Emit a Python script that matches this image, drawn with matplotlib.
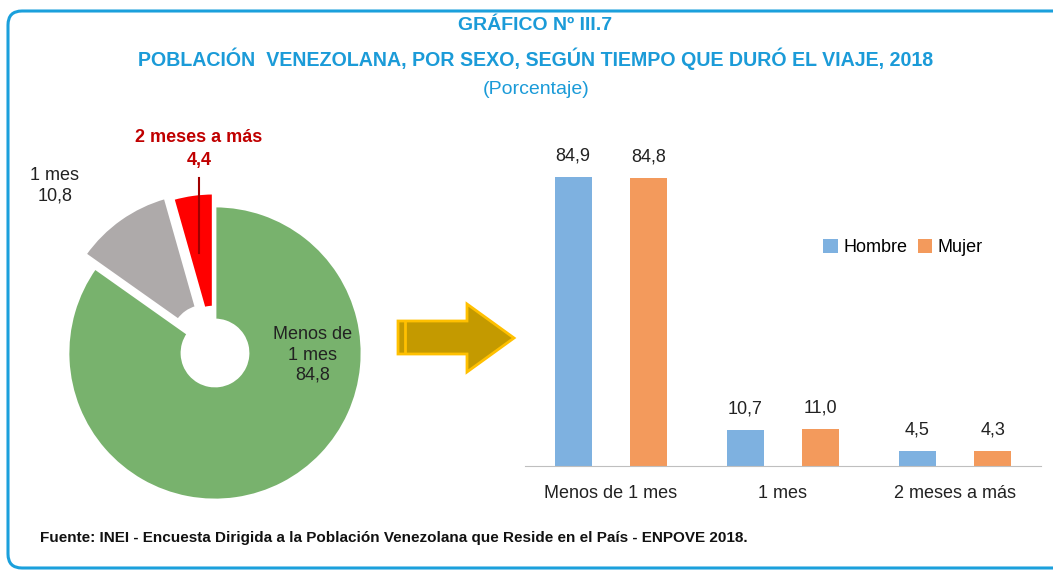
import matplotlib
matplotlib.use("Agg")
import matplotlib.pyplot as plt
from matplotlib.patches import FancyBboxPatch, Polygon
import numpy as np
from matplotlib import font_manager

# ---------------- data ----------------
pie_labels = ["Menos de\n1 mes", "1 mes", "2 meses a más"]
pie_values = [84.8, 10.8, 4.4]
pie_value_text = ["84,8", "10,8", "4,4"]

categories = ["Menos de 1 mes", "1 mes", "2 meses a más"]
hombre = [84.9, 10.7, 4.5]
mujer = [84.8, 11.0, 4.3]
series_names = ["Hombre", "Mujer"]

title1 = "GRÁFICO Nº III.7"
title2 = "POBLACIÓN  VENEZOLANA, POR SEXO, SEGÚN TIEMPO QUE DURÓ EL VIAJE, 2018"
title3 = "(Porcentaje)"
source = "Fuente: INEI - Encuesta Dirigida a la Población Venezolana que Reside en el País - ENPOVE 2018."

# ---------------- fonts ----------------
avail = {f.name for f in font_manager.fontManager.ttflist}
narrow = "Liberation Sans Narrow" if "Liberation Sans Narrow" in avail else "Liberation Sans"
plt.rcParams['font.family'] = [narrow, 'DejaVu Sans']

W, H = 1053, 573
fig = plt.figure(figsize=(W / 100, H / 100), dpi=100)
bg = fig.add_axes([0, 0, 1, 1])
bg.set_xlim(0, W)
bg.set_ylim(H, 0)
bg.axis("off")

# border
border = FancyBboxPatch((8, 11), W + 20, 557, boxstyle="round,pad=0,rounding_size=14",
                        fc="white", ec="#1BA0DC", lw=2.2, zorder=0)
bg.add_patch(border)

tcol = "#1B9BD8"
bg.text(535, 25, title1, ha="center", va="center", color=tcol, fontsize=14, fontweight="bold")
bg.text(536, 59, title2, ha="center", va="center", color=tcol, fontsize=14.1, fontweight="bold")
bg.text(536, 89, title3, ha="center", va="center", color=tcol, fontsize=14)
bg.text(40, 538, source, ha="left", va="center", color="#111111", fontsize=11, fontweight="bold")

# arrow
arrow_pts = [(398, 321), (467, 321), (467, 304), (514, 338), (467, 372), (467, 354), (398, 354)]
bg.add_patch(Polygon(arrow_pts, closed=True, fc="#C49A00", ec="#FFC000", lw=2, zorder=2))
bg.plot([405, 405], [322, 353], color="#FFC000", lw=2, zorder=3)

# ---------------- pie ----------------
pax = fig.add_axes([0, 0, 1, 1])
pax.patch.set_alpha(0)
cx, cy, R = 215, H - 353, 147
wedges, _ = pax.pie(pie_values, startangle=90, counterclock=False, radius=R, center=(cx, cy),
                    colors=["#78B26D", "#AEAAAA", "#FF0000"], explode=[0, 17, 13],
                    wedgeprops=dict(width=R - 33, edgecolor="white", linewidth=2))
pax.set_xlim(0, W)
pax.set_ylim(0, H)
pax.set_aspect("auto")
pax.axis("off")

pax.text(313, H - 355, pie_labels[0] + "\n" + pie_value_text[0], ha="center", va="center",
         fontsize=13, color="#222222", linespacing=1.25)
pax.text(55, H - 186, pie_labels[1] + "\n" + pie_value_text[1], ha="center", va="center",
         fontsize=13, color="#222222", linespacing=1.25)
pax.text(199, H - 137, pie_labels[2], ha="center", va="center", fontsize=13, color="#C00000",
         fontweight="bold")
pax.text(199, H - 160, pie_value_text[2], ha="center", va="center", fontsize=13, color="#C00000",
         fontweight="bold")
pax.plot([199, 199], [H - 178, H - 253], color="#A00000", lw=1.5)

# ---------------- bars ----------------
x0, x1 = 525, 1041
ytop = 466 - 3.40 * 100
bax = fig.add_axes([x0 / W, (H - 466) / H, (x1 - x0) / W, (466 - ytop) / H])
x = np.arange(len(categories))
bw = 0.215
off = 0.22
b1 = bax.bar(x - off, hombre, bw, color="#7EB1E0", label=series_names[0])
b2 = bax.bar(x + off, mujer, bw, color="#F39A5C", label=series_names[1])
for bars, vals in ((b1, hombre), (b2, mujer)):
    for r, v in zip(bars, vals):
        bax.annotate(f"{v:.1f}".replace(".", ","), (r.get_x() + r.get_width() / 2, v),
                     xytext=(0, 9), textcoords="offset points", ha="center", va="bottom",
                     fontsize=13, color="#222222")
bax.set_xlim(-0.5, 2.5)
bax.set_ylim(0, 100)
for s in ["top", "right", "left"]:
    bax.spines[s].set_visible(False)
bax.spines["bottom"].set_color("#BFBFBF")
bax.set_yticks([])
bax.set_xticks(x)
bax.set_xticklabels(categories, fontsize=13, color="#222222")
bax.tick_params(axis="x", length=0, pad=14)
bax.patch.set_alpha(0)
leg = bax.legend(loc="upper left", bbox_to_anchor=((816 - x0) / (x1 - x0), (466 - 232) / (466 - ytop)),
                 ncol=2, frameon=False, fontsize=13, handlelength=0.8, handleheight=0.8,
                 handletextpad=0.3, columnspacing=0.6, borderaxespad=0)

fig.savefig("out.png", dpi=100)
